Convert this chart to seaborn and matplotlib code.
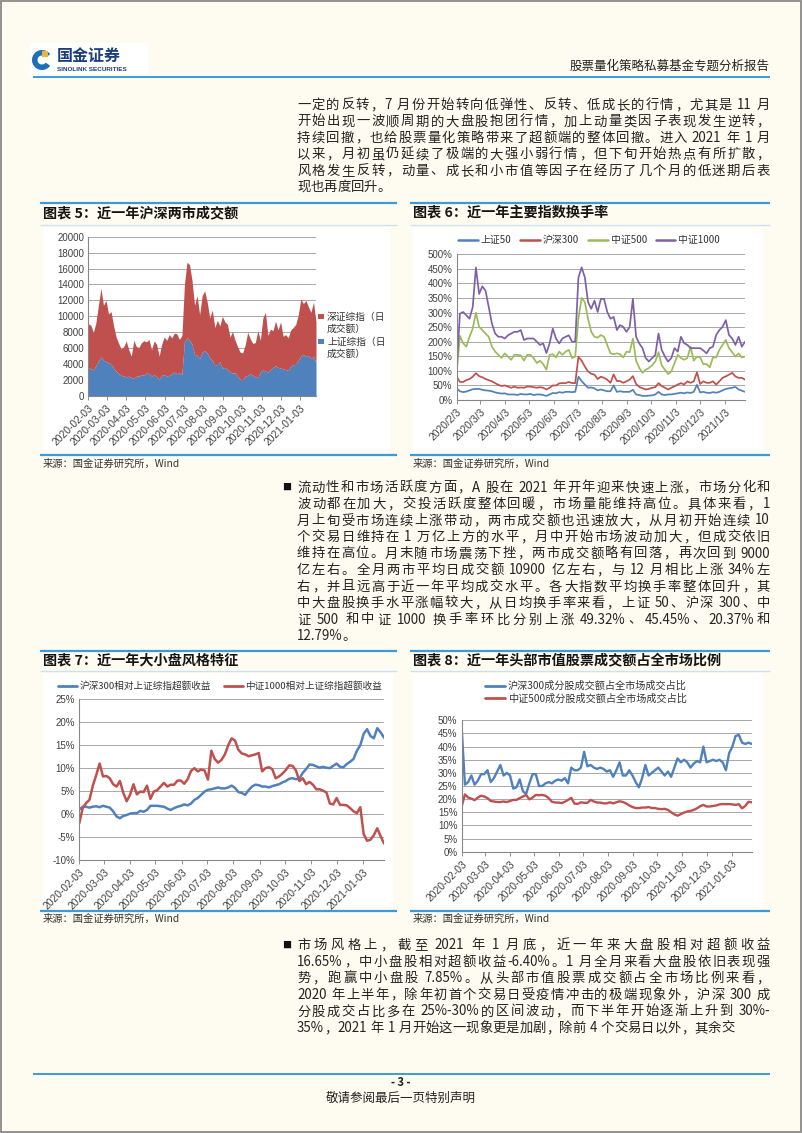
import re
import numpy as np
import pandas as pd
import matplotlib
matplotlib.use('Agg')
import matplotlib.pyplot as plt
from matplotlib.patches import Rectangle, Wedge
from matplotlib.lines import Line2D
import seaborn as sns

sns.set_theme(style='white')
CJK = ['Noto Sans CJK SC', 'DejaVu Sans']
plt.rcParams['font.family'] = CJK
plt.rcParams['axes.unicode_minus'] = False

# ------------------------------------------------------------------ data
dates = pd.date_range('2020-02-03', periods=91, freq='4D')
tick_dates = pd.date_range('2020-02-03', periods=12, freq=pd.DateOffset(months=1))
tick_labels_dash = ['2020-02-03', '2020-03-03', '2020-04-03', '2020-05-03', '2020-06-03',
                    '2020-07-03', '2020-08-03', '2020-09-03', '2020-10-03', '2020-11-03',
                    '2020-12-03', '2021-01-03']
tick_labels_slash = ['2020/2/3', '2020/3/3', '2020/4/3', '2020/5/3', '2020/6/3', '2020/7/3',
                     '2020/8/3', '2020/9/3', '2020/10/3', '2020/11/3', '2020/12/3', '2021/1/3']

# chart 5: daily turnover (100 million CNY)
sh_amount = [3600, 3400, 3300, 3800, 4400, 4900, 4500, 4300, 4200, 4000,
             3500, 3100, 2800, 2600, 2500, 2400, 2500, 2300, 2200, 2500,
             2500, 2700, 2600, 2900, 2800, 2500, 2700, 2400, 2100, 2600,
             2700, 2500, 2600, 2800, 3000, 2800, 2900, 2700, 6800, 7300,
             7000, 6500, 5200, 5100, 4700, 5500, 5700, 5400, 4800, 4500,
             3800, 4000, 4300, 3500, 3600, 3300, 3000, 2900, 2900, 2500,
             2100, 2000, 2500, 2600, 2800, 2600, 2400, 2300, 3000, 3300,
             3100, 3000, 3300, 3600, 3800, 3600, 3500, 3400, 3300, 3200,
             3800, 3900, 4000, 4500, 5000, 5200, 5000, 5100, 4700, 5000,
             4100]
sz_amount = [5450, 5500, 4700, 5400, 7000, 8600, 6900, 7700, 6100, 6600,
             5300, 4300, 3800, 3300, 3700, 4500, 3300, 2700, 4800, 3700,
             3600, 4000, 4350, 3900, 4300, 3300, 4200, 4100, 2900, 3900,
             4700, 4500, 5100, 4500, 4900, 5000, 4200, 4900, 7200, 9500,
             9500, 8000, 6200, 7500, 5500, 7100, 7500, 6400, 5000, 6300,
             4800, 5500, 4500, 6500, 5700, 5700, 4400, 5200, 4100, 3700,
             3400, 3400, 3900, 5400, 4400, 4000, 4300, 5900, 4000, 6500,
             7400, 4600, 5100, 4600, 5600, 4700, 5800, 4100, 4400, 4100,
             4500, 4700, 5000, 5700, 7200, 6400, 7000, 6100, 5800, 6800,
             5200]

# chart 6: turnover rate (%)
sz50_turn = [40, 30, 27, 29, 33, 37, 38, 38, 35, 33,
             32, 30, 26, 24, 22, 23, 19, 19, 19, 17,
             21, 19, 19, 21, 17, 19, 19, 17, 14, 19,
             24, 23, 27, 25, 28, 28, 27, 28, 80, 65,
             53, 42, 43, 40, 33, 36, 33, 30, 30, 50,
             28, 30, 28, 28, 28, 35, 19, 17, 14, 14,
             15, 16, 19, 28, 19, 17, 19, 19, 21, 23,
             25, 23, 26, 24, 28, 52, 26, 28, 25, 24,
             27, 25, 28, 33, 38, 40, 42, 45, 36, 32,
             28]
hs300_turn = [80, 62, 62, 68, 72, 80, 92, 82, 78, 72,
              68, 64, 58, 52, 48, 50, 46, 42, 46, 42,
              43, 42, 46, 46, 44, 42, 44, 42, 36, 42,
              50, 50, 57, 58, 58, 62, 58, 58, 148, 135,
              115, 98, 90, 87, 72, 80, 76, 70, 59, 88,
              65, 65, 59, 64, 70, 82, 55, 45, 40, 36,
              38, 42, 44, 58, 48, 42, 36, 42, 47, 53,
              58, 53, 64, 59, 64, 95, 55, 64, 59, 59,
              64, 53, 64, 76, 81, 87, 93, 81, 76, 76,
              70]
zz500_turn = [95, 220, 195, 183, 217, 245, 300, 251, 240, 228,
              217, 183, 166, 155, 144, 160, 149, 138, 155, 155,
              153, 135, 155, 155, 144, 127, 135, 123, 104, 155,
              157, 146, 166, 155, 166, 172, 144, 149, 280, 350,
              336, 279, 234, 217, 214, 223, 217, 189, 160, 157,
              160, 157, 146, 166, 164, 211, 135, 110, 93, 104,
              110, 119, 132, 164, 119, 104, 89, 98, 127, 155,
              144, 138, 144, 183, 135, 149, 146, 123, 123, 112,
              146, 146, 172, 189, 206, 178, 164, 149, 160, 146,
              149]
zz1000_turn = [110, 296, 302, 291, 279, 319, 455, 364, 390, 375,
               319, 262, 228, 217, 217, 211, 222, 228, 234, 234,
               240, 206, 211, 211, 211, 200, 189, 194, 161, 194,
               245, 211, 194, 211, 217, 222, 200, 200, 420, 455,
               421, 336, 313, 341, 302, 347, 347, 302, 279, 285,
               240, 257, 251, 234, 251, 347, 217, 194, 178, 144,
               132, 144, 155, 228, 172, 149, 132, 144, 178, 166,
               217, 195, 189, 178, 178, 178, 178, 170, 160, 178,
               183, 223, 240, 251, 274, 223, 211, 189, 217, 183,
               200]

# chart 7: excess return vs SSE composite (%)
hs300_excess = [1.0, 1.6, 1.6, 1.4, 1.6, 1.7, 1.5, 1.8, 1.6, 1.4,
                0.6, -0.5, -0.9, -0.4, -0.2, 0.1, 0.2, 0.2, 0.7, 0.5,
                0.9, 1.8, 1.8, 1.8, 1.7, 1.6, 1.2, 0.9, 1.3, 1.6,
                1.8, 2.1, 1.9, 2.3, 3.1, 3.5, 4.2, 4.9, 5.3, 5.4,
                5.6, 5.8, 5.6, 5.6, 5.8, 6.2, 5.7, 4.8, 4.6, 4.2,
                5.2, 6.0, 6.4, 6.3, 6.0, 6.0, 5.8, 6.1, 6.3, 6.5,
                6.9, 7.2, 7.7, 7.8, 7.6, 7.7, 9.0, 9.8, 10.8, 10.7,
                10.4, 10.1, 10.3, 10.1, 10.0, 10.5, 11.0, 10.3, 10.2, 10.9,
                11.4, 12.0, 13.8, 15.0, 17.5, 18.5, 17.0, 16.5, 18.7, 17.8,
                16.65]
zz1000_excess = [-2.0, 1.3, 2.4, 3.1, 6.2, 8.5, 11.0, 8.2, 8.3, 7.8,
                 6.5, 6.0, 7.2, 4.6, 2.8, 4.2, 6.5, 4.3, 4.9, 4.8,
                 6.2, 3.3, 4.9, 5.2, 6.0, 6.8, 6.0, 6.4, 6.4, 7.3,
                 7.3, 6.6, 7.6, 9.4, 10.0, 9.3, 9.7, 9.5, 7.5, 13.8,
                 12.0, 11.2, 11.8, 13.0, 15.0, 16.5, 16.0, 14.0, 13.2, 13.0,
                 12.6, 12.8, 13.0, 13.3, 9.3, 10.0, 10.2, 9.8, 7.8, 8.2,
                 8.8, 9.6, 10.6, 10.5, 9.5, 7.2, 7.8, 6.5, 7.0, 6.4,
                 5.4, 5.4, 5.1, 4.7, 2.3, 2.1, 3.5, 2.0, 2.0, 1.9,
                 1.3, 0.6, 0.2, 1.5, -4.4, -5.8, -5.6, -4.6, -3.1, -4.8,
                 -6.4]

# chart 8: share of total market turnover (%)
hs300_share = [47.0, 25.5, 26.5, 29.0, 25.5, 27.0, 29.5, 29.5, 31.0, 26.5,
               28.0, 30.5, 33.0, 29.0, 30.0, 29.0, 24.0, 24.5, 27.5, 23.0,
               22.0, 26.0, 29.5, 29.5, 25.0, 25.0, 26.0, 26.5, 26.0, 27.0,
               27.5, 27.0, 28.0, 26.0, 32.0, 31.0, 31.0, 32.0, 38.0, 32.5,
               33.0, 32.0, 31.5, 32.0, 31.5, 30.5, 31.0, 28.5, 31.0, 34.0,
               29.0, 29.0, 31.0, 29.0, 26.5, 24.5, 28.0, 33.0, 29.0, 30.0,
               31.0, 32.0, 30.5, 29.0, 30.5, 28.5, 32.0, 35.5, 34.0, 35.0,
               34.0, 32.0, 33.5, 34.5, 34.0, 40.0, 34.0, 34.5, 35.0, 34.5,
               35.0, 34.0, 31.0, 37.5, 40.0, 44.0, 44.5, 41.5, 41.0, 41.5,
               41.0]
zz500_share = [17.2, 21.8, 20.6, 20.2, 19.6, 20.6, 21.3, 21.0, 20.4, 19.3,
               19.1, 18.9, 18.9, 19.1, 18.9, 19.3, 19.7, 19.7, 20.4, 21.0,
               21.6, 19.9, 20.6, 21.6, 21.5, 21.6, 21.3, 20.4, 19.0, 18.7,
               18.7, 18.5, 19.0, 19.7, 20.5, 18.3, 18.2, 18.8, 18.6, 18.6,
               19.7, 19.1, 18.7, 18.7, 18.4, 18.4, 18.8, 18.4, 18.8, 19.2,
               18.9, 18.4, 17.6, 17.0, 16.6, 16.6, 16.8, 16.8, 17.0, 16.6,
               16.6, 16.3, 16.2, 16.3, 15.9, 15.0, 14.2, 13.7, 14.3, 14.9,
               15.3, 15.5, 15.9, 16.5, 17.3, 17.8, 17.2, 17.2, 17.4, 17.6,
               18.0, 18.1, 18.1, 18.1, 18.0, 17.8, 18.1, 16.5, 17.4, 19.0,
               18.8]

names5 = ['上证综指（日成交额）', '深证综指（日成交额）']
names6 = ['上证50', '沪深300', '中证500', '中证1000']
names7 = ['沪深300相对上证综指超额收益', '中证1000相对上证综指超额收益']
names8 = ['沪深300成分股成交额占全市场成交占比', '中证500成分股成交额占全市场成交占比']

para1 = ['一定的反转，7 月份开始转向低弹性、反转、低成长的行情，尤其是 11 月',
         '开始出现一波顺周期的大盘股抱团行情，加上动量类因子表现发生逆转，',
         '持续回撤，也给股票量化策略带来了超额端的整体回撤。进入 2021 年 1 月',
         '以来，月初虽仍延续了极端的大强小弱行情，但下旬开始热点有所扩散，',
         '风格发生反转，动量、成长和小市值等因子在经历了几个月的低迷期后表',
         '现也再度回升。']
para2 = ['流动性和市场活跃度方面，A 股在 2021 年开年迎来快速上涨，市场分化和',
         '波动都在加大，交投活跃度整体回暖，市场量能维持高位。具体来看，1',
         '月上旬受市场连续上涨带动，两市成交额也迅速放大，从月初开始连续 10',
         '个交易日维持在 1 万亿上方的水平，月中开始市场波动加大，但成交依旧',
         '维持在高位。月末随市场震荡下挫，两市成交额略有回落，再次回到 9000',
         '亿左右。全月两市平均日成交额 10900 亿左右，与 12 月相比上涨 34%左',
         '右，并且远高于近一年平均成交水平。各大指数平均换手率整体回升，其',
         '中大盘股换手水平涨幅较大，从日均换手率来看，上证 50、沪深 300、中',
         '证 500 和中证 1000 换手率环比分别上涨 49.32%、45.45%、20.37%和',
         '12.79%。']
para3 = ['市场风格上，截至 2021 年 1 月底，近一年来大盘股相对超额收益',
         '16.65%，中小盘股相对超额收益-6.40%。1 月全月来看大盘股依旧表现强',
         '势，跑赢中小盘股 7.85%。从头部市值股票成交额占全市场比例来看，',
         '2020 年上半年，除年初首个交易日受疫情冲击的极端现象外，沪深 300 成',
         '分股成交占比多在 25%-30%的区间波动，而下半年开始逐渐上升到 30%-',
         '35%，2021 年 1 月开始这一现象更是加剧，除前 4 个交易日以外，其余交']

# ------------------------------------------------------------------ page
W, H = 802, 1133
PAGE = '#FEFBF0'
BLUE_LINE = '#3A9BD8'
TXT = '#232323'
C_BLUE, C_RED, C_GREEN, C_PURPLE = '#4F81BD', '#C0504D', '#9BBB59', '#7F60A8'
TICKFONT = ['Liberation Sans', 'DejaVu Sans']

fig = plt.figure(figsize=(W / 100, H / 100), dpi=100)
fig.patch.set_facecolor(PAGE)
bg = fig.add_axes([0, 0, 1, 1])
bg.set_xlim(0, W)
bg.set_ylim(H, 0)
bg.axis('off')
bg.set_zorder(-5)
renderer = fig.canvas.get_renderer()


def add_ax(l, r, t, b):
    return fig.add_axes([l / W, 1 - b / H, (r - l) / W, (b - t) / H])


def hline(x0, x1, y, color=BLUE_LINE, lw=1.5):
    bg.plot([x0, x1], [y, y], color=color, lw=lw, solid_capstyle='butt')


_wcache = {}


def tok_width(tok, size):
    key = (tok, size)
    if key not in _wcache:
        t = bg.text(0, 0, tok, fontsize=size)
        _wcache[key] = t.get_window_extent(renderer).width
        t.remove()
    return _wcache[key]


def draw_line(text, x0, x1, y, size, justify=True):
    tokens = re.findall(r'[A-Za-z0-9.%\-]+| +|[^A-Za-z0-9.%\- ]', text)
    items = []
    for tk in tokens:
        if tk.strip() == '':
            items.append((None, size * 1.389 * 0.28 * len(tk)))
        else:
            items.append((tk, tok_width(tk, size)))
    total = sum(w for _, w in items)
    ndrawn = sum(1 for t, _ in items if t is not None)
    extra = (x1 - x0 - total) / (ndrawn - 1) if (justify and ndrawn > 1) else 0
    x = x0
    for tk, w in items:
        if tk is None:
            x += w
            continue
        bg.text(x, y, tk, fontsize=size, color=TXT, ha='left', va='center')
        x += w + extra


def paragraph(lines, x0, x1, y0, dy, size=9.6, bullet=None):
    if bullet is not None:
        bg.text(bullet, y0, '■', fontsize=6.5, color='#111111', ha='center', va='center')
    for k, ln in enumerate(lines):
        draw_line(ln, x0, x1, y0 + k * dy, size, justify=(k < len(lines) - 1))


# border
bg.add_patch(Rectangle((0.8, 0.8), W - 1.8, H - 1.8, fill=False, edgecolor='#8A8A8A', lw=1.3))

# header
bg.add_patch(Rectangle((30, 43), 118, 31, facecolor='white', edgecolor='none'))
bg.add_patch(Wedge((42, 60), 10, 35, 325, width=5.5, facecolor='#1E6FB8', edgecolor='none'))
bg.add_patch(Rectangle((42, 51), 6, 6, facecolor='#E8B73A', edgecolor='none'))
bg.text(57, 56, '国金证券', fontsize=11.5, fontweight='bold', color='#1B3F7A', ha='left', va='center')
bg.text(57, 69.5, 'SINOLINK SECURITIES', fontsize=4.6, fontweight='bold', color='#1B3F7A',
        ha='left', va='center', family=TICKFONT)
bg.text(770, 66, '股票量化策略私募基金专题分析报告', fontsize=9.0, color=TXT, ha='right', va='center')
hline(33, 770, 76.5, lw=1.4)

# paragraphs
paragraph(para1, 297, 770, 105, 16.4)
paragraph(para2, 297, 770, 487.5, 16.5, bullet=287)
paragraph(para3, 297, 770, 945, 16.6, bullet=287)

# footer
hline(33, 770, 1074, lw=1.4)
bg.text(401, 1083, '- 3 -', fontsize=8, fontweight='bold', color=TXT, ha='center', va='center')
bg.text(401, 1098, '敬请参阅最后一页特别声明', fontsize=9, color=TXT, ha='center', va='center')


def section(x0, x1, y_top, y_title, y_sub, y_bot, y_src, title, panel):
    px0, py0, px1, py1 = panel
    bg.add_patch(Rectangle((px0, py0), px1 - px0, py1 - py0, facecolor='white', edgecolor='none'))
    hline(x0, x1, y_top, lw=1.6)
    bg.text(x0 + 3, y_title, title, fontsize=10.2, fontweight='bold', color='#151515',
            ha='left', va='center')
    hline(x0, x1, y_sub, color='#C9E2F2', lw=0.9)
    hline(x0, x1, y_bot, lw=1.6)
    bg.text(x0 + 3, y_src, '来源：国金证券研究所，Wind', fontsize=7.4, color='#333333',
            ha='left', va='center')


section(40, 397, 202.5, 213.5, 224.5, 454.5, 463.5, '图表 5：近一年沪深两市成交额', (43, 227, 390, 450))
section(410, 770, 202.5, 213.5, 224.5, 454.5, 463.5, '图表 6：近一年主要指数换手率', (413, 227, 763, 450))
section(40, 397, 650.5, 660, 671, 910.5, 919, '图表 7：近一年大小盘风格特征', (43, 673, 393, 907))
section(410, 770, 650.5, 660, 671, 910.5, 919, '图表 8：近一年头部市值股票成交额占全市场比例', (413, 673, 763, 907))


def style_axis(ax, ylim, yticks, ylabels, xlabels, fs=7.0, xfs=7.4):
    ax.set_facecolor('none')
    ax.set_xlim(dates[0], dates[-1])
    ax.set_ylim(*ylim)
    ax.set_yticks(yticks)
    ax.set_yticklabels(ylabels, fontsize=fs, color='#404040', family=TICKFONT)
    ax.set_xticks(tick_dates)
    ax.set_xticklabels(xlabels, rotation=45, ha='right', va='top', rotation_mode='anchor',
                       fontsize=xfs, color='#404040', family=TICKFONT)
    ax.tick_params(axis='x', bottom=True, length=3, width=0.6, color='#808080', pad=2)
    ax.tick_params(axis='y', left=False, length=0, pad=3)
    ax.yaxis.grid(True, color='#A8A8A8', lw=0.7)
    ax.xaxis.grid(False)
    ax.set_axisbelow(True)
    for s in ['top', 'right']:
        ax.spines[s].set_visible(False)
    for s in ['left', 'bottom']:
        ax.spines[s].set_color('#878787')
        ax.spines[s].set_linewidth(0.8)
    ax.set_xlabel('')
    ax.set_ylabel('')


# ---------------- chart 5 (stacked area)
ax5 = add_ax(88.3, 316, 236.7, 396)
ax5.stackplot(dates, sh_amount, sz_amount, colors=[C_BLUE, C_RED], lw=0)
yt5 = list(range(0, 20001, 2000))
style_axis(ax5, (0, 20000), yt5, [str(v) for v in yt5], tick_labels_dash)
leg5 = [(C_RED, names5[1]), (C_BLUE, names5[0])]
for k, (c, lab) in enumerate(leg5):
    yy = 316.5 + k * 25
    bg.add_patch(Rectangle((318, yy - 3), 5.5, 5.5, facecolor=c, edgecolor='none'))
    bg.text(327, yy, lab[:6], fontsize=7.0, color='#333333', ha='left', va='center')
    bg.text(327, yy + 12.5, lab[6:], fontsize=7.0, color='#333333', ha='left', va='center')

# ---------------- chart 6 (turnover)
df6 = pd.DataFrame({'date': np.tile(dates, 4),
                    'value': np.concatenate([sz50_turn, hs300_turn, zz500_turn, zz1000_turn]),
                    'series': np.repeat(names6, len(dates))})
pal6 = dict(zip(names6, [C_BLUE, C_RED, C_GREEN, C_PURPLE]))
ax6 = add_ax(456.7, 745, 254.3, 400)
sns.lineplot(data=df6, x='date', y='value', hue='series', hue_order=names6, palette=pal6,
             linewidth=1.25, legend=False, ax=ax6, estimator=None)
yt6 = list(range(0, 501, 50))
style_axis(ax6, (0, 500), yt6, [f'{v}%' for v in yt6], tick_labels_slash)
ax6.legend(handles=[Line2D([0], [0], color=pal6[n], lw=1.8) for n in names6], labels=names6,
           loc='center', bbox_to_anchor=(589 / W, 1 - 240 / H), bbox_transform=fig.transFigure,
           ncol=4, frameon=False, fontsize=7.1, handlelength=2.0, handletextpad=0.3,
           columnspacing=0.9, labelcolor='#333333')

# ---------------- chart 7 (style excess)
df7 = pd.DataFrame({'date': np.tile(dates, 2),
                    'value': np.concatenate([hs300_excess, zz1000_excess]),
                    'series': np.repeat(names7, len(dates))})
pal7 = dict(zip(names7, [C_BLUE, C_RED]))
ax7 = add_ax(79.3, 384, 699.3, 860)
sns.lineplot(data=df7, x='date', y='value', hue='series', hue_order=names7, palette=pal7,
             linewidth=1.8, legend=False, ax=ax7, estimator=None)
yt7 = list(range(-10, 26, 5))
style_axis(ax7, (-10, 25), yt7, [f'{v}%' for v in yt7], tick_labels_dash)
ax7.legend(handles=[Line2D([0], [0], color=pal7[n], lw=2.0) for n in names7], labels=names7,
           loc='center', bbox_to_anchor=(220 / W, 1 - 686 / H), bbox_transform=fig.transFigure,
           ncol=2, frameon=False, fontsize=6.9, handlelength=2.0, handletextpad=0.3,
           columnspacing=1.3, labelcolor='#333333')

# ---------------- chart 8 (share of turnover)
df8 = pd.DataFrame({'date': np.tile(dates, 2),
                    'value': np.concatenate([hs300_share, zz500_share]),
                    'series': np.repeat(names8, len(dates))})
pal8 = dict(zip(names8, [C_BLUE, C_RED]))
ax8 = add_ax(461.7, 751.7, 720.3, 851.7)
sns.lineplot(data=df8, x='date', y='value', hue='series', hue_order=names8, palette=pal8,
             linewidth=1.7, legend=False, ax=ax8, estimator=None)
yt8 = list(range(0, 51, 5))
style_axis(ax8, (0, 50), yt8, [f'{v}%' for v in yt8], tick_labels_dash)
ax8.legend(handles=[Line2D([0], [0], color=pal8[n], lw=2.0) for n in names8], labels=names8,
           loc='center', bbox_to_anchor=(586 / W, 1 - 692.5 / H), bbox_transform=fig.transFigure,
           ncol=1, frameon=False, fontsize=7.3, handlelength=1.9, handletextpad=0.3,
           labelspacing=0.25, labelcolor='#333333')

fig.savefig('out.png', dpi=100, facecolor=PAGE)
